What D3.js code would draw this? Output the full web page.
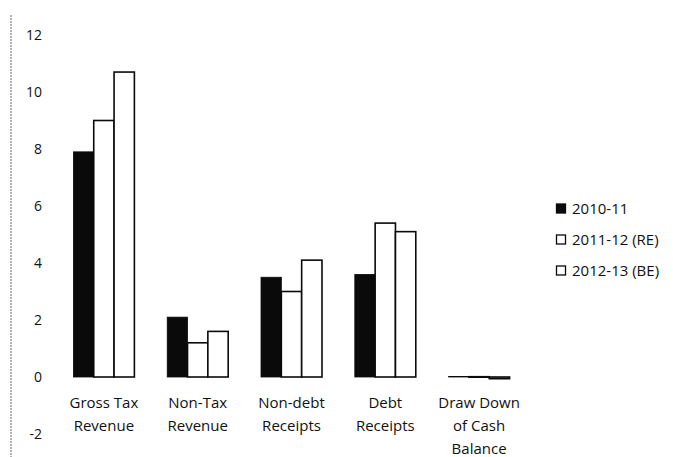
<!DOCTYPE html>
<html>
<head>
<meta charset="utf-8">
<script src="https://cdn.jsdelivr.net/npm/d3@7"></script>
<style>
  html, body { margin: 0; padding: 0; background: #fff; }
  svg { display: block; }
  text { font-family: "Open Sans", "Liberation Sans", sans-serif; fill: #111; }
</style>
</head>
<body>
<svg id="chart" width="673" height="457"></svg>
<script>
// Receipts by category (per cent), three fiscal years
const categories = [
  ["Gross Tax", "Revenue"],
  ["Non-Tax", "Revenue"],
  ["Non-debt", "Receipts"],
  ["Debt", "Receipts"],
  ["Draw Down", "of Cash", "Balance"]
];
const seriesNames = ["2010-11", "2011-12 (RE)", "2012-13 (BE)"];
const values2010 = [7.9, 2.1, 3.5, 3.6, 0.02];
const values2011 = [9.0, 1.2, 3.0, 5.4, 0.01];
const values2012 = [10.7, 1.6, 4.1, 5.1, -0.06];
const yTicks = [-2, 0, 2, 4, 6, 8, 10, 12];

const series = [values2010, values2011, values2012];
const fills = ["#0a0a0a", "#ffffff", "#ffffff"];

const svg = d3.select("#chart");

const x = d3.scaleBand()
  .domain(d3.range(categories.length))
  .range([57, 526])
  .paddingInner(0.35)
  .paddingOuter(0.175);

const xs = d3.scaleBand()
  .domain(d3.range(series.length))
  .range([0, x.bandwidth()]);

const y = d3.scaleLinear().domain([0, 12]).range([377, 35]);

// left frame line
svg.append("line")
  .attr("x1", 11).attr("x2", 11)
  .attr("y1", 15).attr("y2", 457)
  .attr("stroke", "#666")
  .attr("stroke-width", 1)
  .attr("stroke-dasharray", "2,1");

// y axis labels
const yAxis = d3.axisLeft(y)
  .tickValues(yTicks)
  .tickSize(0)
  .tickPadding(0)
  .tickFormat(d => d);

const yg = svg.append("g").attr("transform", "translate(42,0)").call(yAxis);
yg.select(".domain").remove();
yg.selectAll("text")
  .attr("font-size", 14)
  .attr("font-family", "Open Sans, Liberation Sans, sans-serif")
  .attr("fill", "#111");

// bars
const groups = svg.append("g").selectAll("g")
  .data(categories)
  .join("g")
  .attr("transform", (d, i) => `translate(${x(i)},0)`);

series.forEach((vals, s) => {
  groups.append("rect")
    .attr("x", xs(s))
    .attr("width", xs.bandwidth())
    .attr("y", (d, i) => Math.min(y(vals[i]), y(0)))
    .attr("height", (d, i) => Math.max(Math.abs(y(vals[i]) - y(0)), 0.5))
    .attr("fill", fills[s])
    .attr("stroke", "#0a0a0a")
    .attr("stroke-width", s === 0 ? 0.8 : 1.6);
});

// category labels
groups.each(function(lines) {
  const t = d3.select(this).append("text")
    .attr("text-anchor", "middle")
    .attr("font-size", 15)
    .attr("x", x.bandwidth() / 2)
    .attr("y", 408);
  lines.forEach((ln, k) => {
    t.append("tspan")
      .attr("x", x.bandwidth() / 2)
      .attr("dy", k === 0 ? 0 : 23)
      .text(ln);
  });
});

// legend
const legend = svg.append("g").attr("transform", "translate(556,209)");
seriesNames.forEach((name, s) => {
  const g = legend.append("g").attr("transform", `translate(0,${s * 31})`);
  g.append("rect")
    .attr("x", 0.5).attr("y", -5)
    .attr("width", 9).attr("height", 9)
    .attr("fill", fills[s])
    .attr("stroke", "#0a0a0a")
    .attr("stroke-width", 1.3);
  g.append("text")
    .attr("x", 16)
    .attr("y", 0)
    .attr("dy", "0.35em")
    .attr("font-size", 15)
    .text(name);
});
</script>
</body>
</html>
